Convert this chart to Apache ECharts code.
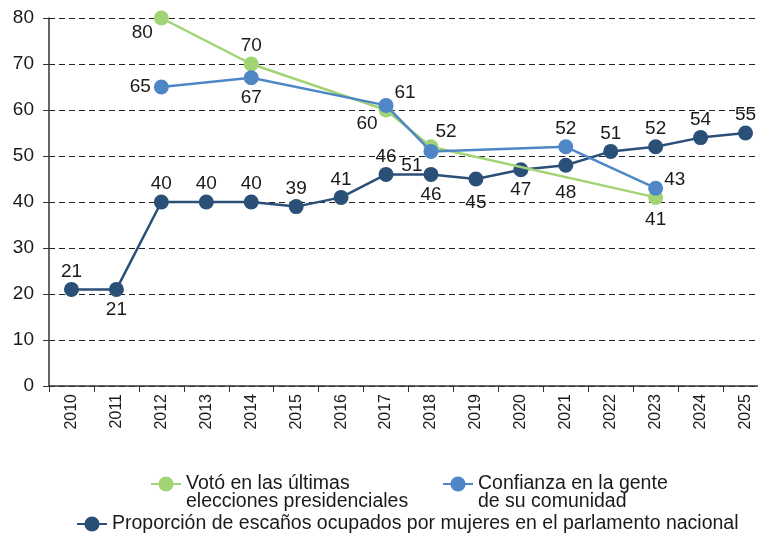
<!DOCTYPE html>
<html>
<head>
<meta charset="utf-8">
<script src="https://cdn.jsdelivr.net/npm/echarts@6/dist/echarts.min.js"></script>
<style>
  html, body { margin: 0; padding: 0; background: #fff; overflow: hidden; }
  #chart { width: 768px; height: 535px; }
</style>
</head>
<body>
<div id="chart"></div>
<script>
// años del eje X
const years = ['2010', '2011', '2012', '2013', '2014', '2015', '2016', '2017',
  '2018', '2019', '2020', '2021', '2022', '2023', '2024', '2025'];

// series (null = sin dato)
const voto = [null, null, 80, null, 70, null, null, 60, 52, null, null, null, null, 41, null, null];
const confianza = [null, null, 65, null, 67, null, null, 61, 51, null, null, 52, null, 43, null, null];
const escanos = [21, 21, 40, 40, 40, 39, 41, 46, 46, 45, 47, 48, 51, 52, 54, 55];

const names = [
  'Votó en las últimas\nelecciones presidenciales',
  'Confianza en la gente\nde su comunidad',
  'Proporción de escaños ocupados por mujeres en el parlamento nacional',
];
const colors = ['#a2d374', '#4f87c6', '#2a5078'];

// posición de las etiquetas por punto: [position, dx, dy]
const votoLbl = {2: ['left', 2, 15], 4: ['top', 0, 2], 7: ['left', 2, 14], 8: ['right', -6, -15], 13: ['bottom', 0, 2]};
const confLbl = {2: ['left', 0, 0], 4: ['bottom', 0, 0], 7: ['right', -2, -13], 8: ['left', 2, 14], 11: ['top', 0, 2], 13: ['right', -2, -8]};
const escLbl = {1: ['bottom', 0, 0], 8: ['bottom', 0, 0], 9: ['bottom', 0, 4], 10: ['bottom', 0, 0], 11: ['bottom', 0, 8]};

const FONT = '"Liberation Sans", Arial, sans-serif';

function points(values, lbl, defPos) {
  return values.map((v, i) => {
    if (v == null) return null;
    const l = lbl[i] || [defPos, 0, 2];
    return { value: v, label: { position: l[0], offset: [l[1], l[2]] } };
  });
}

function lineSeries(name, data, color, z) {
  return {
    name, type: 'line', data, connectNulls: true, z,
    symbol: 'circle', symbolSize: 15,
    lineStyle: { color, width: 2.5 },
    itemStyle: { color },
    label: { show: true, color: '#1a1a1a', fontSize: 19, fontFamily: FONT, distance: 3 },
    emphasis: { disabled: true },
  };
}

const legendBase = {
  orient: 'horizontal', itemWidth: 30, itemHeight: 19, itemGap: 0, padding: 0,
  textStyle: { color: '#1a1a1a', fontSize: 19.5, fontFamily: FONT, lineHeight: 18 },
};
// línea vacía arriba para que el icono quede a la altura de la primera línea
const twoLines = (name) => ' \n' + name;

const chart = echarts.init(document.getElementById('chart'), null, { renderer: 'canvas' });
chart.setOption({
  animation: false,
  backgroundColor: '#fff',
  grid: { left: 49, right: 0, top: 18, bottom: 149, containLabel: false },
  legend: [
    { ...legendBase, formatter: twoLines, data: [names[0]], left: 150, top: 456 },
    { ...legendBase, formatter: twoLines, data: [names[1]], left: 442, top: 456 },
    { ...legendBase, data: [names[2]], left: 76, top: 514 },
  ],
  xAxis: {
    type: 'category', data: years, boundaryGap: true,
    axisLine: { lineStyle: { color: '#333', width: 1.5 } },
    axisTick: { show: true, length: 6, lineStyle: { color: '#333' } },
    axisLabel: { rotate: 90, color: '#1a1a1a', fontSize: 16, fontFamily: FONT, margin: 8 },
  },
  yAxis: {
    type: 'value', min: 0, max: 80, interval: 10,
    axisLine: { show: true, lineStyle: { color: '#333', width: 1.5 } },
    axisTick: { show: true, length: 6, lineStyle: { color: '#333' } },
    axisLabel: { color: '#1a1a1a', fontSize: 19, fontFamily: FONT, margin: 15 },
    splitLine: { lineStyle: { color: '#222', type: [6, 4], width: 1 } },
  },
  series: [
    lineSeries(names[2], points(escanos, escLbl, 'top'), colors[2], 2),
    lineSeries(names[0], points(voto, votoLbl, 'top'), colors[0], 3),
    lineSeries(names[1], points(confianza, confLbl, 'top'), colors[1], 4),
  ],
});
</script>
</body>
</html>
